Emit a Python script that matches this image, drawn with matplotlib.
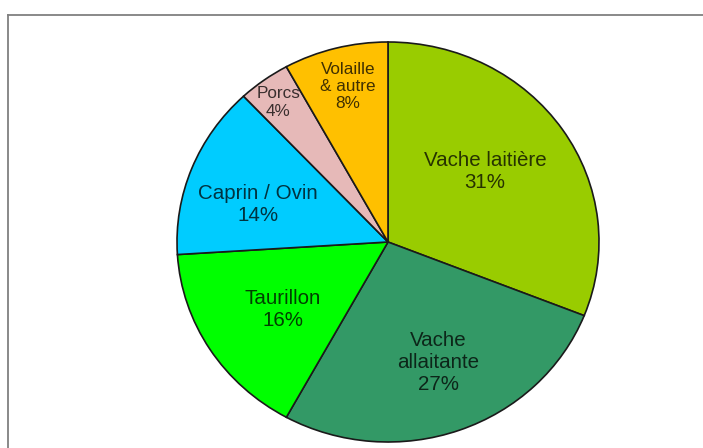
import numpy as np
import matplotlib
matplotlib.use("Agg")
import matplotlib.pyplot as plt
from matplotlib.lines import Line2D

plt.rcParams['font.family'] = ['Liberation Sans', 'DejaVu Sans']

# Share of each livestock category (percent), clockwise from 12 o'clock
categories = ["Vache laitière", "Vache\nallaitante", "Taurillon",
              "Caprin / Ovin", "Porcs", "Volaille\n& autre"]
shares = [31, 27, 16, 14, 4, 8]
colors = ["#99CC00", "#339966", "#00FF00", "#00CCFF", "#E6B9B8", "#FFC000"]

# Per-label placement: radial distance, angular nudge (deg) and font size
label_dist = [0.58, 0.65, 0.60, 0.645, 0.87, 0.80]
label_nudge = [3.4, 1.8, 1.6, 4.5, 0.7, -0.7]
label_size = [14.8, 14.8, 14.8, 14.8, 12.3, 12.3]

W, H = 703, 448
fig = plt.figure(figsize=(W / 100, H / 100), dpi=100)
ax = fig.add_axes([0, 0, 1, 1])

wedges, _ = ax.pie(shares, colors=colors, startangle=90, counterclock=False,
                   radius=1.0,
                   wedgeprops=dict(edgecolor="#1a1a1a", linewidth=1.2))

# Pie centre at (388, 242) px, radii 211 px horizontally and 200 px vertically
cx, cy, rx, ry = 388, 242, 211, 200
ax.set_aspect('auto')
ax.set_xlim(-cx / rx, (W - cx) / rx)
ax.set_ylim(-(H - cy) / ry, cy / ry)
ax.axis('off')

for w, cat, val, d, nd, fs in zip(wedges, categories, shares,
                                  label_dist, label_nudge, label_size):
    theta = np.deg2rad((w.theta1 + w.theta2) / 2 + nd)
    ax.text(d * np.cos(theta), d * np.sin(theta), f"{cat}\n{val}%",
            ha='center', va='center', fontsize=fs, color='black', alpha=0.75,
            linespacing=1.2)

# Outer frame (top and left edges)
fig.add_artist(Line2D([8 / W, 1.0], [1 - 15 / H, 1 - 15 / H],
                      transform=fig.transFigure, color="#808080", lw=1.3))
fig.add_artist(Line2D([8 / W, 8 / W], [0.0, 1 - 15 / H],
                      transform=fig.transFigure, color="#808080", lw=1.3))

fig.savefig("out.png", dpi=100, facecolor="white")
